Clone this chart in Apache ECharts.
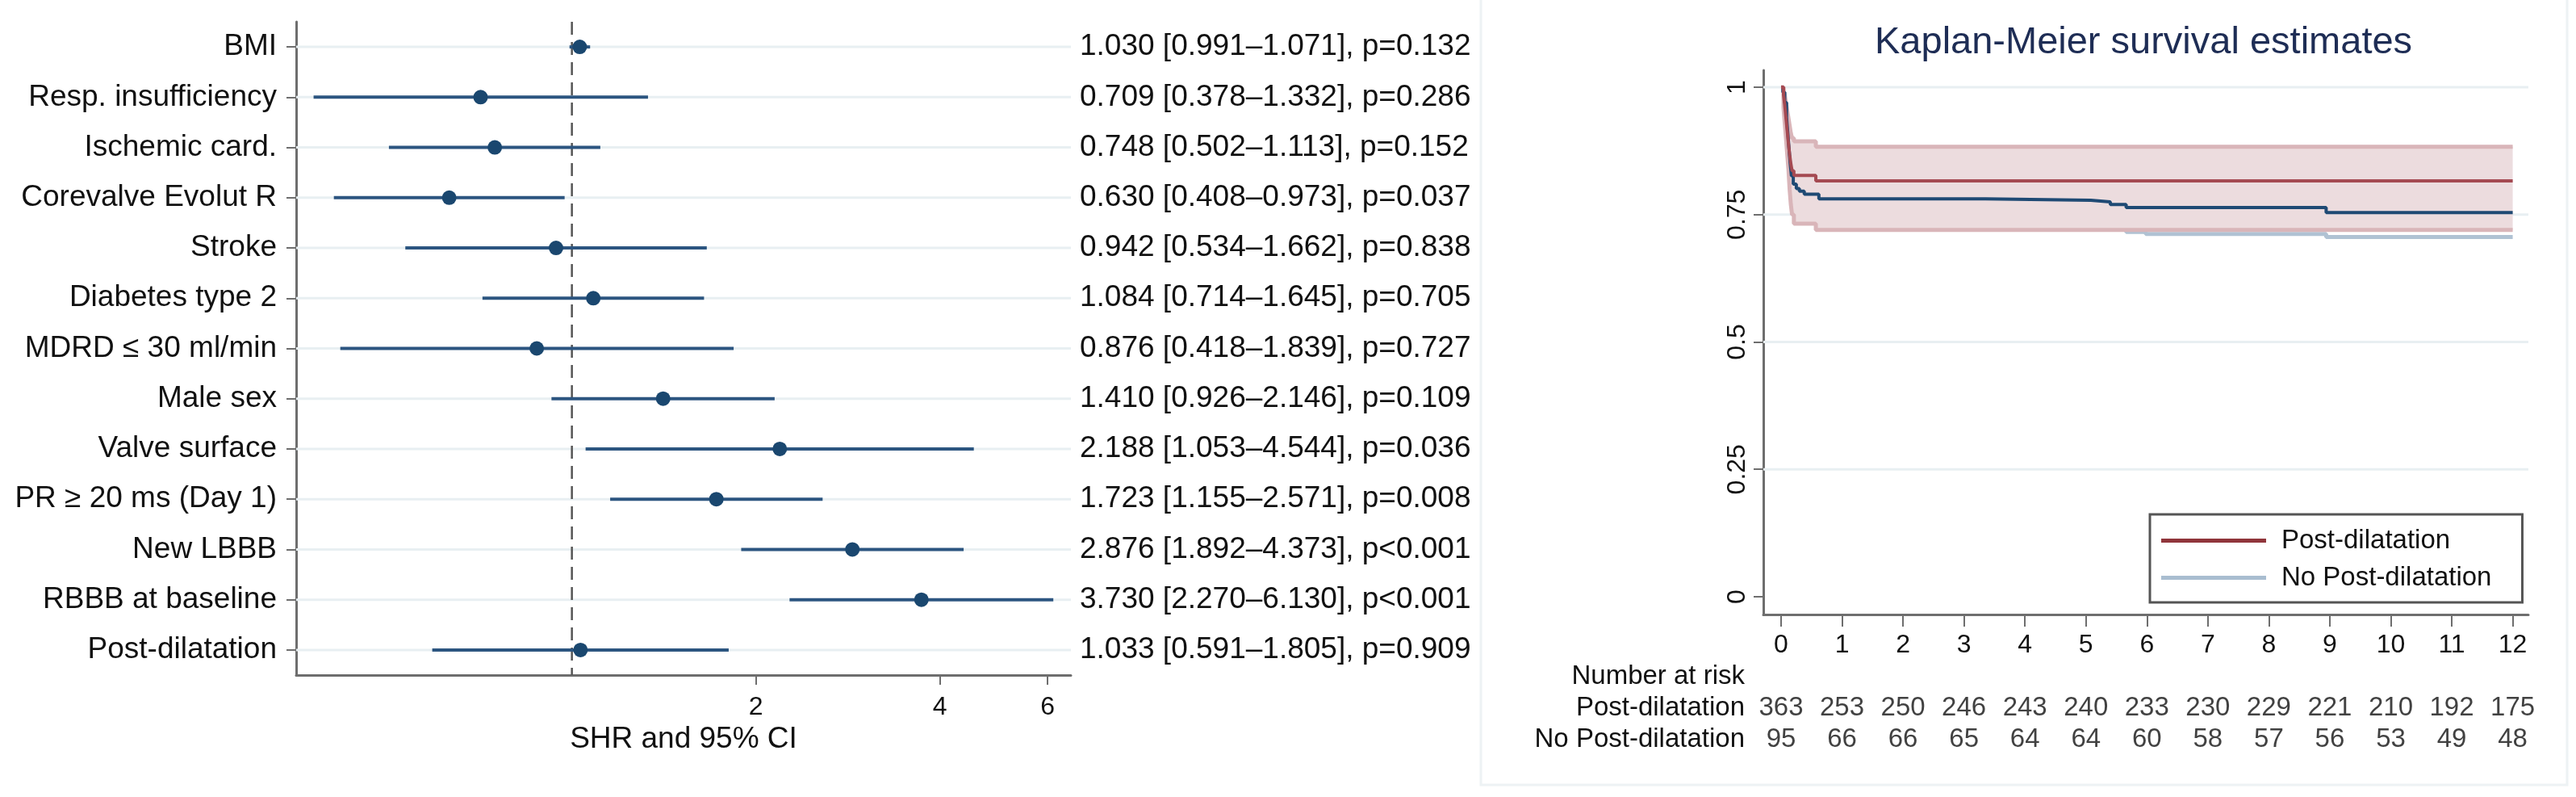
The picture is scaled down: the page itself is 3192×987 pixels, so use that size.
<!DOCTYPE html>
<html><head><meta charset="utf-8">
<script src="https://cdn.jsdelivr.net/npm/echarts@6.0.0/dist/echarts.min.js"></script>
<style>html,body{margin:0;padding:0;background:#fff}#c{width:3192px;height:987px}</style>
</head><body><div id="c"></div>
<script>
// ---------- Forest plot data ----------
const factors = ['BMI','Resp. insufficiency','Ischemic card.','Corevalve Evolut R','Stroke','Diabetes type 2','MDRD \u2264 30 ml/min','Male sex','Valve surface','PR \u2265 20 ms (Day 1)','New LBBB','RBBB at baseline','Post-dilatation'];
const shr    = [1.030,0.709,0.748,0.630,0.942,1.084,0.876,1.410,2.188,1.723,2.876,3.730,1.033];
const ciLow  = [0.991,0.378,0.502,0.408,0.534,0.714,0.418,0.926,1.053,1.155,1.892,2.270,0.591];
const ciHigh = [1.071,1.332,1.113,0.973,1.662,1.645,1.839,2.146,4.544,2.571,4.373,6.130,1.805];
const pValues = ['=0.132','=0.286','=0.152','=0.037','=0.838','=0.705','=0.727','=0.109','=0.036','=0.008','<0.001','<0.001','=0.909'];
const shrTicks = [2,4,6];
const refValue = 1;

// ---------- Kaplan-Meier data ----------
const months = [0,1,2,3,4,5,6,7,8,9,10,11,12];
const riskRows = ['No Post-dilatation','Post-dilatation','Number at risk'];   // bottom -> top
const atRiskPost = [363,253,250,246,243,240,233,230,229,221,210,192,175];
const atRiskNo   = [95,66,66,65,64,64,60,58,57,56,53,49,48];
const survTicks = [0,0.25,0.5,0.75,1];
const survGrid  = [0.25,0.5,0.75,1];

// Post-dilatation curve and its 95% CI (step function)
const postT  = [0,0.04,0.06,0.08,0.10,0.12,0.14,0.16,0.18,0.21,0.57,12];
const postS  = [1,0.985,0.965,0.940,0.915,0.890,0.868,0.850,0.836,0.827,0.816,0.816];
const postHi = [1,0.995,0.985,0.970,0.955,0.940,0.925,0.910,0.900,0.894,0.883,0.883];
const postLo = [1,0.960,0.930,0.900,0.870,0.840,0.800,0.770,0.750,0.732,0.720,0.720];
// No Post-dilatation curve
const noT = [0,0.03,0.06,0.09,0.11,0.13,0.15,0.17,0.20,0.25,0.30,0.38,0.62,3.35,5.08,5.40,5.66,8.94,12];
const noS = [1,0.990,0.970,0.940,0.910,0.880,0.850,0.826,0.810,0.801,0.796,0.790,0.781,0.778,0.775,0.770,0.764,0.754,0.754];
// No Post-dilatation lower CI
const noLoT = [0.62,3.35,5.08,5.66,5.98,8.94,12];
const noLo  = [0.730,0.728,0.724,0.716,0.712,0.706,0.706];

const FONT = 'Liberation Sans, Arial, Helvetica, sans-serif';
const AX = '#6e6e6e';
const TXT = '#111';

const pair = (t, s) => t.map((v, i) => [v, s[i]]);
const kmMin = -0.291, kmMax = 12.257;

const chart = echarts.init(document.getElementById('c'), null, {renderer: 'canvas', devicePixelRatio: 1});
chart.setOption({
  animation: false,
  backgroundColor: '#fff',
  textStyle: {fontFamily: FONT},
  title: {
    text: 'Kaplan-Meier survival estimates', left: 2323, top: 30, padding: 0,
    textStyle: {fontSize: 47, fontWeight: 'normal', color: '#1e2d55', fontFamily: FONT}
  },
  legend: {
    orient: 'vertical', left: 2664, top: 637,
    padding: [16, 38, 14, 14], itemGap: 13, itemWidth: 130, itemHeight: 5,
    borderColor: '#555', borderWidth: 3, backgroundColor: '#fff',
    selectedMode: false,
    textStyle: {fontSize: 33, color: TXT, padding: [0, 0, 0, 14]},
    data: [
      {name: 'Post-dilatation', icon: 'rect', itemStyle: {color: '#90353b'}},
      {name: 'No Post-dilatation', icon: 'rect', itemStyle: {color: '#a9bdd0'}}
    ]
  },
  graphic: [{
    type: 'rect', silent: true, z: -1,
    shape: {x: 1835, y: -10, width: 1346, height: 982},
    style: {fill: 'none', stroke: '#edf2f4', lineWidth: 3}
  }],
  grid: [
    {left: 367, top: 27, width: 960, height: 809, containLabel: false},
    {left: 2185, top: 87, width: 948, height: 674, containLabel: false},
    {left: 2185, top: 818, width: 948, height: 117, containLabel: false}
  ],
  xAxis: [
    {
      type: 'log', logBase: 2, gridIndex: 0, min: 0.354, max: 6.55,
      axisLine: {show: true, lineStyle: {color: AX, width: 3}},
      axisTick: {show: true, customValues: shrTicks, length: 12, lineStyle: {color: AX, width: 2}},
      axisLabel: {show: true, customValues: shrTicks, fontSize: 32, color: TXT, margin: 24,
        formatter: v => String(Math.round(v))},
      splitLine: {show: false},
      name: 'SHR and 95% CI', nameLocation: 'middle', nameGap: 54,
      nameTextStyle: {fontSize: 37, color: TXT}
    },
    {
      type: 'value', gridIndex: 1, min: kmMin, max: kmMax,
      axisLine: {show: true, onZero: false, lineStyle: {color: AX, width: 3}},
      axisTick: {show: true, customValues: months, length: 15, lineStyle: {color: AX, width: 2}},
      axisLabel: {show: true, customValues: months, fontSize: 32, color: TXT, margin: 22},
      splitLine: {show: false}
    },
    {
      type: 'value', gridIndex: 2, min: kmMin, max: kmMax, show: false,
      axisLine: {show: false}, axisTick: {show: false}, axisLabel: {show: false}, splitLine: {show: false}
    }
  ],
  yAxis: [
    {
      type: 'category', gridIndex: 0, data: factors, inverse: true, boundaryGap: true,
      axisLine: {show: true, lineStyle: {color: AX, width: 3}},
      axisTick: {show: true, alignWithLabel: true, length: 12, lineStyle: {color: AX, width: 2}},
      axisLabel: {fontSize: 37, color: TXT, margin: 24, interval: 0},
      splitLine: {show: false}
    },
    {
      type: 'category', gridIndex: 0, data: factors, inverse: true, boundaryGap: true, position: 'right',
      axisLine: {show: false}, axisTick: {show: false}, splitLine: {show: false},
      axisLabel: {fontSize: 37, color: TXT, margin: 11, interval: 0, align: 'left',
        formatter: (v, i) => shr[i].toFixed(3) + ' [' + ciLow[i].toFixed(3) + '\u2013' + ciHigh[i].toFixed(3) + '], p' + pValues[i]}
    },
    {
      type: 'value', gridIndex: 1, min: -0.0349, max: 1.0333,
      axisLine: {show: true, onZero: false, lineStyle: {color: AX, width: 3}},
      axisTick: {show: true, customValues: survTicks, length: 12, lineStyle: {color: AX, width: 2}},
      axisLabel: {show: true, customValues: survTicks, rotate: 90, fontSize: 32, color: TXT, margin: 16},
      splitLine: {show: false}
    },
    {
      type: 'category', gridIndex: 2, data: riskRows, boundaryGap: true,
      axisLine: {show: false}, axisTick: {show: false}, splitLine: {show: false},
      axisLabel: {fontSize: 33, color: TXT, margin: 23, interval: 0}
    }
  ],
  series: [
    // forest: faint row gridlines
    {
      type: 'custom', name: 'rows', xAxisIndex: 0, yAxisIndex: 0, z: 1, silent: true,
      data: factors.map((f, i) => [refValue, i]),
      renderItem: (params, api) => {
        const p = api.coord([api.value(0), api.value(1)]);
        const cs = params.coordSys;
        return {type: 'line', shape: {x1: cs.x, y1: p[1], x2: cs.x + cs.width, y2: p[1]},
          style: {stroke: '#e8eff2', lineWidth: 3}};
      }
    },
    // forest: reference line at SHR = 1
    {
      type: 'custom', name: 'ref', xAxisIndex: 0, yAxisIndex: 0, z: 2, silent: true,
      data: [[refValue, 0]],
      renderItem: (params, api) => {
        const p = api.coord([api.value(0), api.value(1)]);
        const cs = params.coordSys;
        return {type: 'line', shape: {x1: p[0], y1: cs.y, x2: p[0], y2: cs.y + cs.height},
          style: {stroke: '#555', lineWidth: 2.5, lineDash: [16, 9]}};
      }
    },
    // forest: 95% CI segments
    {
      type: 'custom', name: 'CI', xAxisIndex: 0, yAxisIndex: 0, z: 3,
      data: factors.map((f, i) => [ciLow[i], i, ciHigh[i]]),
      renderItem: (params, api) => {
        const i = api.value(1);
        const a = api.coord([api.value(0), i]);
        const b = api.coord([api.value(2), i]);
        return {type: 'line', shape: {x1: a[0], y1: a[1], x2: b[0], y2: b[1]},
          style: {stroke: '#2c5580', lineWidth: 4}};
      }
    },
    {
      type: 'scatter', name: 'SHR', xAxisIndex: 0, yAxisIndex: 0, z: 4,
      symbol: 'circle', symbolSize: 18, itemStyle: {color: '#1a476f', opacity: 1},
      data: shr.map((v, i) => [v, i])
    },
    // KM gridlines
    {
      type: 'custom', name: 'kmgrid', xAxisIndex: 1, yAxisIndex: 2, z: 1, silent: true,
      data: survGrid.map(v => [0, v]),
      renderItem: (params, api) => {
        const p = api.coord([api.value(0), api.value(1)]);
        const cs = params.coordSys;
        return {type: 'line', shape: {x1: cs.x, y1: p[1], x2: cs.x + cs.width, y2: p[1]},
          style: {stroke: '#e8eff2', lineWidth: 3}};
      }
    },
    {
      type: 'line', name: 'No Post-dilatation CI', xAxisIndex: 1, yAxisIndex: 2, z: 2,
      step: 'end', symbol: 'none', showSymbol: false,
      lineStyle: {color: '#b0c2d3', width: 5}, data: pair(noLoT, noLo)
    },
    // Post-dilatation CI band
    {
      type: 'custom', name: 'Post-dilatation CI band', xAxisIndex: 1, yAxisIndex: 2, z: 3, silent: true,
      data: [[0, 1]],
      renderItem: (params, api) => {
        const pts = [];
        for (let i = 0; i < postT.length; i++) {
          if (i > 0) pts.push(api.coord([postT[i], postHi[i - 1]]));
          pts.push(api.coord([postT[i], postHi[i]]));
        }
        for (let i = postT.length - 1; i >= 0; i--) {
          pts.push(api.coord([postT[i], postLo[i]]));
          if (i > 0) pts.push(api.coord([postT[i], postLo[i - 1]]));
        }
        return {type: 'polygon', shape: {points: pts}, style: {fill: '#ecdcde'}};
      }
    },
    {
      type: 'line', name: 'upper CI', xAxisIndex: 1, yAxisIndex: 2, z: 4,
      step: 'end', symbol: 'none', showSymbol: false,
      lineStyle: {color: '#d9b5b9', width: 5}, data: pair(postT, postHi)
    },
    {
      type: 'line', name: 'lower CI', xAxisIndex: 1, yAxisIndex: 2, z: 4,
      step: 'end', symbol: 'none', showSymbol: false,
      lineStyle: {color: '#d9b5b9', width: 5}, data: pair(postT, postLo)
    },
    {
      type: 'line', name: 'No Post-dilatation', xAxisIndex: 1, yAxisIndex: 2, z: 5,
      step: 'end', symbol: 'none', showSymbol: false, color: '#1f4a74',
      lineStyle: {color: '#1f4a74', width: 4}, data: pair(noT, noS)
    },
    {
      type: 'line', name: 'Post-dilatation', xAxisIndex: 1, yAxisIndex: 2, z: 6,
      step: 'end', symbol: 'none', showSymbol: false, color: '#a54a52',
      lineStyle: {color: '#a54a52', width: 4}, data: pair(postT, postS)
    },
    // Number at risk table
    {
      type: 'scatter', name: 'at risk', xAxisIndex: 2, yAxisIndex: 3, silent: true,
      symbol: 'circle', symbolSize: 1, itemStyle: {color: 'rgba(0,0,0,0)'},
      label: {show: true, position: 'inside', fontSize: 33, color: TXT, formatter: p => String(p.value[2])},
      data: months.map((m, i) => [m, 'Post-dilatation', atRiskPost[i]])
        .concat(months.map((m, i) => [m, 'No Post-dilatation', atRiskNo[i]]))
    }
  ]
});
</script>
</body></html>
